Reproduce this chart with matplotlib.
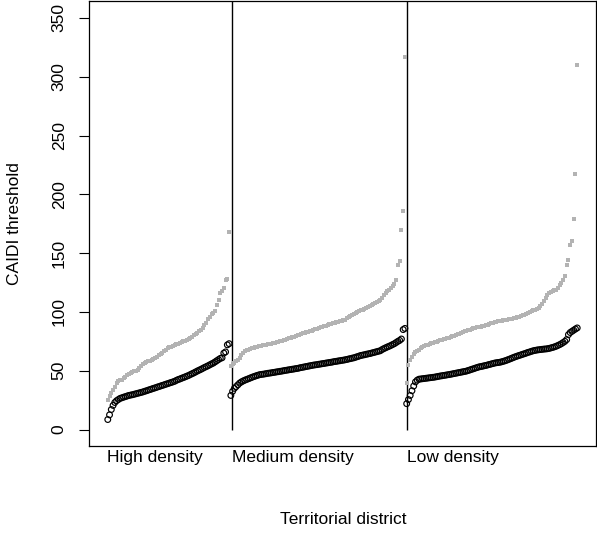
import matplotlib
matplotlib.use("Agg")
import matplotlib.pyplot as plt
import matplotlib.transforms as mtransforms
import numpy as np

plt.rcParams['font.family'] = ['Liberation Sans', 'DejaVu Sans']

groups = ["High density", "Medium density", "Low density"]

high_black = [8.5, 12.5, 17.0, 20.5, 23.0, 24.5, 25.5, 26.5, 27.0, 27.5,
              28.0, 28.5, 29.0, 29.3, 29.6, 30.0, 30.4, 30.8, 31.2, 31.6,
              32.0, 32.5, 33.0, 33.5, 34.0, 34.5, 35.0, 35.5, 36.0, 36.5,
              37.0, 37.5, 38.0, 38.5, 39.0, 39.5, 40.0, 40.5, 41.0, 41.8,
              42.5, 43.0, 43.6, 44.2, 44.8, 45.4, 46.0, 46.8, 47.5, 48.2,
              49.0, 49.8, 50.5, 51.2, 52.0, 52.8, 53.5, 54.2, 55.0, 55.8,
              56.5, 57.5, 58.5, 59.5, 60.5, 61.0, 65.0, 66.0, 72.0, 73.0]
high_gray = [25.5, 28.5, 31.0, 34.0, 36.5, 39.5, 41.0, 42.0, 42.5, 44.0,
             45.0, 46.0, 47.0, 48.0, 49.0, 49.5, 50.0, 51.0, 52.5, 54.0,
             55.5, 57.0, 57.5, 58.0, 58.5, 59.0, 60.0, 61.0, 62.0, 63.5,
             64.5, 65.5, 66.5, 68.0, 69.0, 70.0, 70.5, 71.0, 72.0, 72.5,
             73.0, 73.7, 74.5, 75.0, 75.5, 76.0, 77.0, 78.0, 79.0, 80.0,
             81.0, 82.0, 83.5, 85.0, 86.5, 88.5, 91.0, 94.0, 96.0, 98.0,
             99.5, 101.0, 106.0, 110.0, 116.0, 118.0, 120.0, 127.0, 128.0, 168.0]
medium_black = [29.0, 32.5, 35.0, 36.5, 38.0, 39.5, 40.5, 41.3, 42.0, 42.6,
                43.2, 43.8, 44.4, 45.0, 45.5, 46.0, 46.5, 46.8, 47.0, 47.2,
                47.5, 47.8, 48.0, 48.2, 48.5, 48.7, 49.0, 49.2, 49.5, 49.7,
                50.0, 50.3, 50.5, 50.8, 51.0, 51.3, 51.5, 51.8, 52.0, 52.4,
                52.7, 53.0, 53.3, 53.6, 53.9, 54.2, 54.5, 54.8, 55.0, 55.2,
                55.5, 55.7, 56.0, 56.2, 56.5, 56.7, 57.0, 57.2, 57.5, 57.8,
                58.0, 58.3, 58.5, 58.8, 59.0, 59.3, 59.6, 60.0, 60.3, 60.7,
                61.0, 61.5, 62.0, 62.5, 63.0, 63.3, 63.6, 64.0, 64.3, 64.6,
                65.0, 65.4, 65.8, 66.2, 66.6, 67.0, 68.0, 68.8, 69.5, 70.2,
                70.8, 71.5, 72.3, 73.0, 74.0, 75.0, 75.8, 77.0, 85.0, 86.0]
medium_gray = [53.8, 55.5, 56.6, 58.0, 59.5, 61.0, 63.0, 65.0, 66.5, 67.5,
               68.0, 68.5, 69.0, 69.5, 70.0, 70.4, 70.8, 71.2, 71.5, 71.8,
               72.1, 72.4, 72.7, 73.0, 73.4, 73.8, 74.2, 74.6, 75.0, 75.5,
               76.0, 76.5, 77.0, 77.5, 78.0, 78.5, 79.0, 79.5, 80.0, 80.7,
               81.2, 81.7, 82.2, 82.7, 83.2, 83.7, 84.2, 84.8, 85.3, 85.8,
               86.4, 86.9, 87.4, 87.9, 88.4, 88.9, 89.4, 89.9, 90.4, 90.9,
               91.3, 91.7, 92.1, 92.6, 93.0, 93.5, 94.5, 95.5, 96.5, 97.7,
               98.5, 99.2, 99.9, 100.6, 101.3, 102.0, 102.7, 103.4, 104.3, 105.2,
               106.0, 106.8, 107.6, 108.5, 109.4, 110.4, 112.0, 114.0, 116.0, 118.0,
               119.0, 120.5, 121.8, 124.0, 127.5, 140.0, 143.0, 170.0, 186.0, 317.0]
low_black = [22.0, 25.5, 29.0, 33.0, 37.0, 40.5, 42.0, 42.8, 43.0, 43.2,
             43.4, 43.6, 43.8, 44.0, 44.2, 44.4, 44.6, 44.9, 45.2, 45.5,
             45.7, 46.0, 46.2, 46.5, 46.7, 47.0, 47.3, 47.6, 47.9, 48.2,
             48.5, 48.8, 49.1, 49.4, 49.7, 50.2, 50.7, 51.2, 51.7, 52.2,
             52.7, 53.2, 53.5, 53.8, 54.2, 54.5, 54.9, 55.3, 55.7, 56.1,
             56.5, 56.8, 57.0, 57.2, 57.6, 58.0, 58.5, 59.0, 59.6, 60.2,
             60.8, 61.4, 62.0, 62.5, 63.0, 63.5, 64.0, 64.5, 65.0, 65.6,
             66.0, 66.5, 67.0, 67.3, 67.6, 67.8, 68.0, 68.2, 68.4, 68.5,
             68.7, 69.0, 69.4, 69.8, 70.3, 70.8, 71.5, 72.2, 73.0, 74.0,
             75.0, 76.5, 80.7, 82.5, 83.5, 84.5, 85.5, 86.4]
low_gray = [39.7, 55.0, 59.0, 62.0, 64.5, 66.0, 67.0, 68.0, 69.0, 70.0,
            70.7, 71.5, 72.2, 72.8, 73.3, 73.8, 74.3, 74.8, 75.3, 75.8,
            76.3, 76.8, 77.2, 77.6, 78.0, 78.6, 79.2, 79.8, 80.4, 81.0,
            81.6, 82.2, 82.8, 83.5, 84.0, 84.5, 85.0, 85.5, 86.0, 86.4,
            86.8, 87.2, 87.5, 87.8, 88.3, 88.8, 89.3, 89.8, 90.3, 90.8,
            91.2, 91.6, 92.0, 92.3, 92.6, 92.9, 93.2, 93.5, 93.8, 94.1,
            94.4, 94.7, 95.0, 95.5, 96.0, 96.5, 97.0, 97.7, 98.5, 99.2,
            100.0, 100.7, 101.3, 102.0, 102.7, 103.4, 105.0, 107.0, 109.0, 111.5,
            114.0, 116.0, 117.0, 118.0, 118.5, 119.0, 120.4, 122.5, 124.6, 127.4,
            130.8, 140.0, 143.8, 157.0, 160.0, 179.0, 217.0, 310.0]

black_all = high_black + medium_black + low_black
gray_all = high_gray + medium_gray + low_gray
sizes = [len(high_black), len(medium_black), len(low_black)]
N = len(black_all)
idx = np.arange(1, N + 1)

W, H = 597, 535
fig = plt.figure(figsize=(W / 100, H / 100), dpi=100)
ax = fig.add_axes([89 / W, 1 - 446 / H, (596 - 89) / W, (446 - 1) / H])

ax.scatter(idx, gray_all, marker='s', s=7, color='#b3b3b3', linewidths=0, zorder=2)
ax.scatter(idx, black_all, marker='o', s=17, facecolors='none', edgecolors='black',
           linewidths=0.85, zorder=3)

starts = [1, sizes[0] + 1, sizes[0] + sizes[1] + 1]
for st in starts[1:]:
    ax.vlines(st + 0.4, 0, 400, color='black', linewidth=1.0, zorder=1)

pad = 0.04 * (N - 1)
ax.set_xlim(1 - pad, N + pad)
ax.set_ylim(-14, 364.4)
ax.set_xticks([])
ax.set_yticks(np.arange(0, 351, 50))
ax.tick_params(axis='y', length=7, width=0.8, pad=9, labelsize=12.5)
for lbl in ax.get_yticklabels():
    lbl.set_rotation(90)
    lbl.set_va('center')
for sp in ax.spines.values():
    sp.set_linewidth(0.9)

trans = mtransforms.blended_transform_factory(ax.transData, fig.transFigure)
label_x = [starts[0] - 0.6, starts[1] + 0.4, starts[2] + 0.4]
for lx, g in zip(label_x, groups):
    ax.text(lx, 1 - 462 / H, g, transform=trans, ha='left', va='baseline', fontsize=12.5)

fig.text(343 / W, 1 - 520 / H, "Territorial district", ha='center', va='center', fontsize=12.5)
fig.text(15 / W, 1 - 223.5 / H, "CAIDI threshold", ha='center', va='center',
         rotation=90, fontsize=12.5)

fig.savefig("out.png", dpi=100)
